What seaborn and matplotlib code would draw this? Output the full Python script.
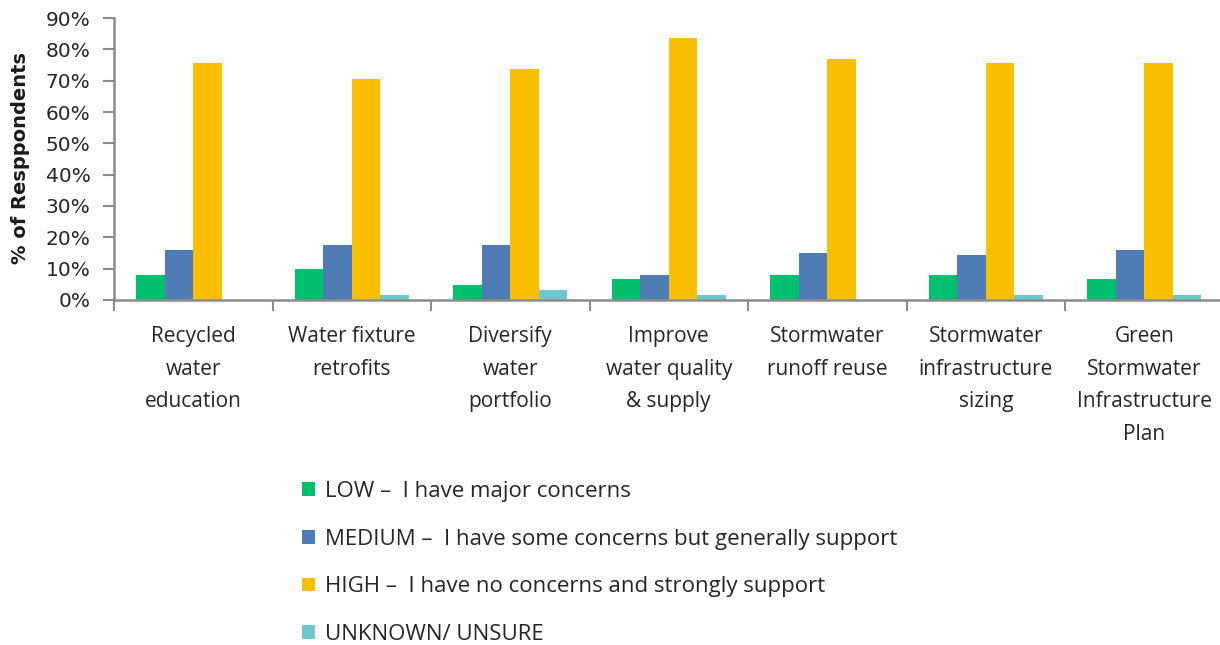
import matplotlib
matplotlib.use("Agg")
import matplotlib.pyplot as plt
import seaborn as sns
import pandas as pd
import numpy as np
from matplotlib.ticker import FixedLocator, PercentFormatter

categories = [
    "Recycled\nwater\neducation",
    "Water fixture\nretrofits",
    "Diversify\nwater\nportfolio",
    "Improve\nwater quality\n& supply",
    "Stormwater\nrunoff reuse",
    "Stormwater\ninfrastructure\nsizing",
    "Green\nStormwater\nInfrastructure\nPlan",
]
series_names = [
    "LOW \u2013  I have major concerns",
    "MEDIUM \u2013  I have some concerns but generally support",
    "HIGH \u2013  I have no concerns and strongly support",
    "UNKNOWN/ UNSURE",
]
low = [7.9, 9.8, 4.8, 6.6, 7.9, 7.9, 6.6]
medium = [16.1, 17.4, 17.4, 8.0, 14.9, 14.3, 16.1]
high = [75.6, 70.5, 73.8, 83.6, 76.9, 75.6, 75.6]
unknown = [0.0, 1.6, 3.3, 1.6, 0.0, 1.6, 1.6]
colors = ["#00BF6F", "#4F7CB5", "#F9BF00", "#6CC8CC"]
yticks = [0, 10, 20, 30, 40, 50, 60, 70, 80, 90]

rows = []
for name, vals in zip(series_names, [low, medium, high, unknown]):
    for c, v in zip(categories, vals):
        rows.append({"Category": c, "Level": name, "Value": v})
df = pd.DataFrame(rows)

sns.set_style("white")
plt.rcParams["font.family"] = ["DejaVu Sans"]

W, H = 1220, 645
fig = plt.figure(figsize=(W / 100, H / 100), dpi=100)
left, right, bottom, top = 114, 1223.5, 300, 18
ax = fig.add_axes([left / W, 1 - bottom / H, (right - left) / W, (bottom - top) / H])

sns.barplot(data=df, x="Category", y="Value", hue="Level", order=categories,
            hue_order=series_names, palette=colors, width=0.72, ax=ax,
            linewidth=0, saturation=1, legend=True)

ax.set_xlim(-0.5, len(categories) - 0.5)
ax.set_ylim(0, 90)
ax.set_yticks(yticks)
ax.yaxis.set_major_formatter(PercentFormatter(decimals=0))
for s in ["top", "right"]:
    ax.spines[s].set_visible(False)
for s in ["left", "bottom"]:
    ax.spines[s].set_color("#8C8C8C")
    ax.spines[s].set_linewidth(1.8)

ax.tick_params(axis="y", which="major", left=True, length=8, width=1.5, color="#8C8C8C",
               labelsize=14.5, labelcolor="#262626", pad=9)
ax.xaxis.set_minor_locator(FixedLocator(np.arange(-0.5, len(categories), 1.0)))
ax.tick_params(axis="x", which="minor", bottom=True, length=8, width=1.5, color="#8C8C8C")
ax.tick_params(axis="x", which="major", bottom=False, length=0, pad=19)
for lbl in ax.get_xticklabels():
    lbl.set_fontfamily("Open Sans")
    lbl.set_fontsize(15)
    lbl.set_color("#262626")
    lbl.set_linespacing(1.72)
    lbl.set_verticalalignment("top")
ax.set_xlabel("")
ax.set_ylabel("")
fig.text(21 / W, 1 - 158 / H, "% of Resppondents", rotation=90, ha="center", va="center",
         fontsize=14, fontweight="bold", color="#1a1a1a")

handles, labels = ax.get_legend_handles_labels()
ax.get_legend().remove()
leg = fig.legend(handles, labels, loc="upper left", bbox_to_anchor=(293 / W, 1 - 472 / H),
                 frameon=False, prop={"family": "Open Sans", "size": 16},
                 handlelength=0.57, handleheight=0.57, handletextpad=0.47,
                 labelspacing=1.2, borderaxespad=0)
for t in leg.get_texts():
    t.set_color("#262626")

fig.savefig("out.png", dpi=100)
